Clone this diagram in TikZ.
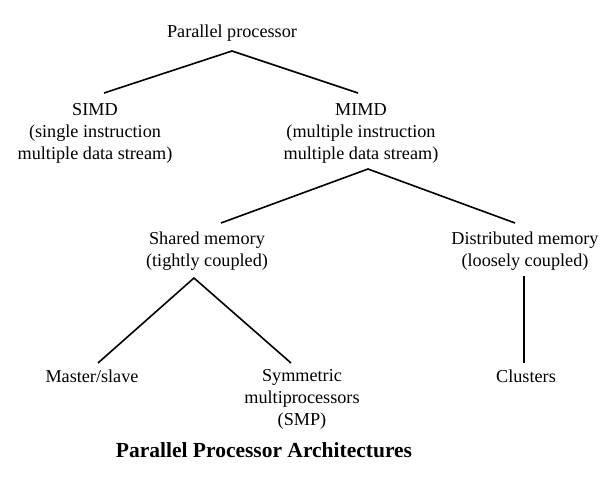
\documentclass[tikz,border=0pt]{standalone}
\usepackage{fontspec}
\setmainfont{Liberation Serif}
\begin{document}
\begin{tikzpicture}[x=1pt,y=-1pt,
		lbl/.style={inner sep=0pt,anchor=base,align=center,font=\fontsize{18.2}{21.8}\selectfont},
		ttl/.style={inner sep=0pt,anchor=base,font=\bfseries\fontsize{21.5}{26}\selectfont},
		branch/.style={line width=1.6pt}]
				\useasboundingbox (0,0) rectangle (608,480);
				\node[lbl] (pp) at (232,37) {Parallel processor};
				\node[lbl] (simd) at (95,159) {SIMD\\(single instruction\\multiple data stream)};
				\node[lbl] (mimd) at (361,159) {MIMD\\(multiple instruction\\multiple data stream)};
				\node[lbl] (shared) at (207,266) {Shared memory\\(tightly coupled)};
				\node[lbl] (dist) at (525,266) {Distributed memory\\(loosely coupled)};
				\node[lbl] (master) at (92,382) {Master/slave};
				\node[lbl] (smp) at (302,425) {Symmetric\\multiprocessors\\(SMP)};
				\node[lbl] (clusters) at (526,382) {Clusters};
				\node[ttl] (title) at (264,457) {Parallel Processor Architectures};
				\coordinate (ppfork) at ([yshift=-14pt]pp.base);
				\coordinate (mimdfork) at ([xshift=7pt,yshift=-10pt]mimd.base);
				\coordinate (sharedfork) at ([xshift=-13pt,yshift=-12pt]shared.base);
				\draw[branch] ([xshift=9pt,yshift=66pt]simd.base) -- (ppfork) -- ([xshift=-3pt,yshift=66pt]mimd.base);
				\draw[branch] ([xshift=14pt,yshift=43pt]shared.base) -- (mimdfork) -- ([xshift=-10pt,yshift=43pt]dist.base);
				\draw[branch] ([xshift=6pt,yshift=19pt]master.base) -- (sharedfork) -- ([xshift=-11pt,yshift=62pt]smp.base);
				\draw[branch] ([xshift=-1pt,yshift=-10pt]dist.base) -- ([xshift=-2pt,yshift=19pt]clusters.base);
			\end{tikzpicture}
\end{document}
